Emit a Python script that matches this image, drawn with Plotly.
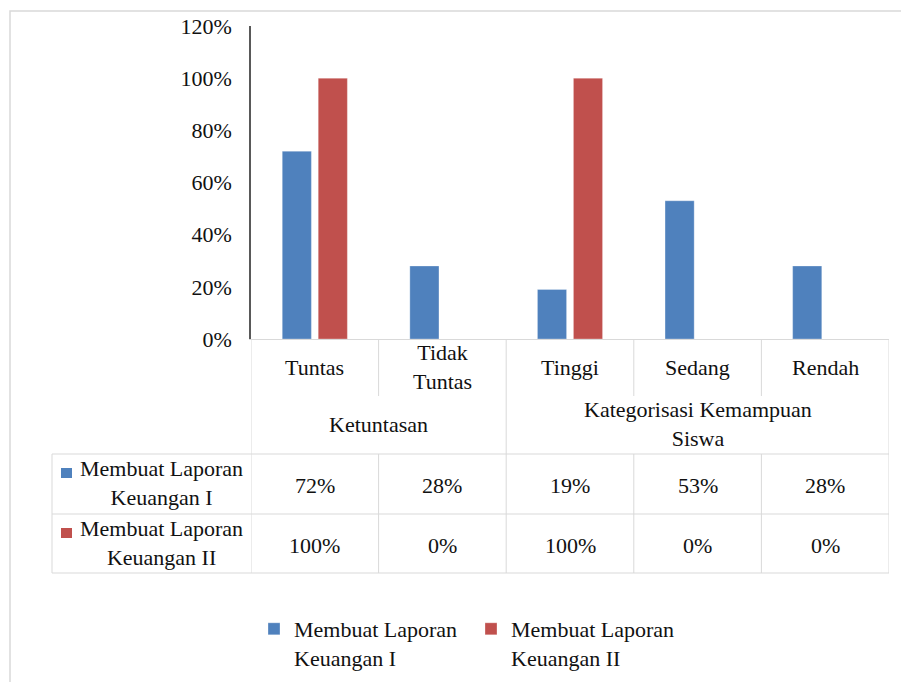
import plotly.graph_objects as go

# ---- data ----
categories = ["Tuntas", "Tidak Tuntas", "Tinggi", "Sedang", "Rendah"]
category_labels = ["Tuntas", "Tidak<br>Tuntas", "Tinggi", "Sedang", "Rendah"]
groups = ["Ketuntasan", "Kategorisasi Kemampuan<br>Siswa"]
group_spans = [(0, 1), (2, 4)]
series_names = ["Membuat Laporan Keuangan I", "Membuat Laporan Keuangan II"]
series_labels = ["Membuat Laporan<br>Keuangan I", "Membuat Laporan<br>Keuangan II"]
laporan_1 = [0.72, 0.28, 0.19, 0.53, 0.28]
laporan_2 = [1.00, 0.00, 1.00, 0.00, 0.00]
colors = ["#4F81BD", "#C0504D"]
y_ticks = [0, 0.2, 0.4, 0.6, 0.8, 1.0, 1.2]

W, H = 901, 682
FONT = "Liberation Serif, 'Times New Roman', serif"
FS = 22
GRID = "#d9d9d9"
TXT = "#111111"


def px(x):
    return x / W


def py(y):
    return 1 - y / H


fig = go.Figure()
for name, label, vals, col in zip(series_names, series_labels, [laporan_1, laporan_2], colors):
    fig.add_trace(go.Bar(
        x=categories, y=vals, name=label, marker_color=col,
        marker_line=dict(color="rgba(255,255,255,0.6)", width=0.5),
        hovertemplate=name + ": %{y:.0%}<extra></extra>",
    ))

plot_top, plot_bottom = 26, 339
x_left, x_right = 251, 889

shapes = []
ann = []

# outer chart border
shapes.append(dict(type="rect", xref="paper", yref="paper", x0=px(10), x1=1.02,
                   y0=-0.02, y1=py(11), line=dict(color=GRID, width=1.5)))

# table lines
row_tops = [454, 514, 573]
for yy in row_tops:
    shapes.append(dict(type="line", xref="paper", yref="paper", x0=px(52), x1=px(x_right),
                       y0=py(yy), y1=py(yy), line=dict(color=GRID, width=1)))
# left border of row-name column
shapes.append(dict(type="line", xref="paper", yref="paper", x0=px(52), x1=px(52),
                   y0=py(454), y1=py(573), line=dict(color=GRID, width=1)))
# category boundaries (in axis coordinates)
group_edges = {-0.5, 1.5, 4.5}
for i in range(len(categories) + 1):
    xb = i - 0.5
    if xb in group_edges:
        shapes.append(dict(type="line", xref="x", yref="paper", x0=xb, x1=xb,
                           y0=py(plot_bottom), y1=py(573), line=dict(color=GRID, width=1)))
    else:
        shapes.append(dict(type="line", xref="x", yref="paper", x0=xb, x1=xb,
                           y0=py(plot_bottom), y1=py(396), line=dict(color=GRID, width=1)))
        shapes.append(dict(type="line", xref="x", yref="paper", x0=xb, x1=xb,
                           y0=py(454), y1=py(573), line=dict(color=GRID, width=1)))

# category labels
for c, lab in zip(categories, category_labels):
    ann.append(dict(x=c, xref="x", y=py(367), yref="paper", text=lab, showarrow=False,
                    xanchor="center", yanchor="middle",
                    font=dict(family=FONT, size=FS, color=TXT)))
# group labels
for g, (a, b) in zip(groups, group_spans):
    ann.append(dict(x=(a + b) / 2, xref="x", y=py(424), yref="paper", text=g, showarrow=False,
                    xanchor="center", yanchor="middle",
                    font=dict(family=FONT, size=FS, color=TXT)))
# data rows
row_centers = [484, 544]
for vals, lab, col, yc in zip([laporan_1, laporan_2], series_labels, colors, row_centers):
    for c, v in zip(categories, vals):
        ann.append(dict(x=c, xref="x", y=py(yc + 1), yref="paper", text=f"{round(v * 100)}%",
                        showarrow=False, xanchor="center", yanchor="middle",
                        font=dict(family=FONT, size=FS, color=TXT)))
    ann.append(dict(x=px(161), xref="paper", y=py(yc - 1), yref="paper", text=lab,
                    showarrow=False, xanchor="center", yanchor="middle", align="center",
                    font=dict(family=FONT, size=FS, color=TXT)))
    shapes.append(dict(type="rect", xref="paper", yref="paper", x0=px(61), x1=px(72),
                       y0=py(yc - 6), y1=py(yc - 16), fillcolor=col, line=dict(width=0)))

fig.update_layout(
    width=W, height=H,
    margin=dict(l=0, r=0, t=0, b=0, autoexpand=False),
    paper_bgcolor="white", plot_bgcolor="white",
    barmode="group", bargap=0.436, bargroupgap=0.19,
    font=dict(family=FONT, size=FS, color=TXT),
    xaxis=dict(domain=[px(x_left), px(x_right)], showticklabels=False, ticks="",
               showgrid=False, showline=True, linecolor=GRID, linewidth=1,
               categoryorder="array", categoryarray=categories, range=[-0.5, 4.5],
               automargin=False),
    yaxis=dict(domain=[py(plot_bottom), py(plot_top)], range=[0, 1.2],
               tickvals=y_ticks, tickformat=".0%", showgrid=False, zeroline=False,
               showline=True, linecolor="#595959", linewidth=1.5, ticks="",
               ticklabelstandoff=13, automargin=False,
               tickfont=dict(family=FONT, size=FS, color=TXT)),
    shapes=shapes, annotations=ann,
    showlegend=True,
    legend=dict(orientation="h", x=px(254), xanchor="left", y=py(608), yanchor="top",
                valign="top", font=dict(family=FONT, size=FS, color=TXT),
                entrywidth=172, entrywidthmode="pixels",
                bgcolor="rgba(0,0,0,0)", traceorder="normal"),
)

fig.write_html("out.html")
